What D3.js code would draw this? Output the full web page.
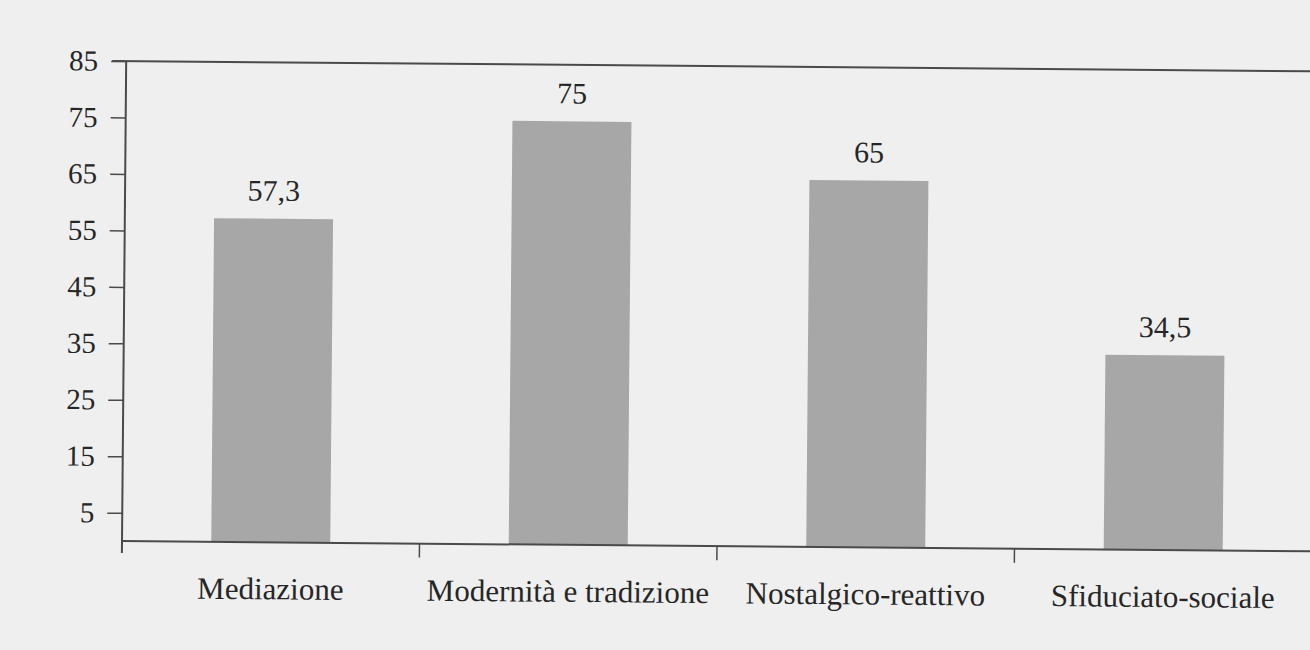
<!DOCTYPE html>
<html>
<head>
<meta charset="utf-8">
<script src="https://cdn.jsdelivr.net/npm/d3@7"></script>
<style>
  body { margin: 0; background: #efefef; }
  text { font-family: "Liberation Serif", "DejaVu Serif", serif; fill: #262626; }
</style>
</head>
<body>
<div id="main"></div>
<script>
// data
const categories = ["Mediazione", "Modernità e tradizione", "Nostalgico-reattivo", "Sfiduciato-sociale"];
const values = [57.3, 75, 65, 34.5];
const valueLabels = ["57,3", "75", "65", "34,5"];
const yTicks = [5, 15, 25, 35, 45, 55, 65, 75, 85];

const width = 1310, height = 650;

const svg = d3.select("#main")
  .append("svg")
  .attr("width", width)
  .attr("height", height);

// scanned page is a little crooked
const g = svg.append("g")
  .attr("transform", "rotate(0.5, 122, 541)");

const x = d3.scaleBand()
  .domain(categories)
  .range([122, 1312])
  .paddingInner(0.6)
  .paddingOuter(0.3);

const y = d3.scaleLinear()
  .domain([0, 85])
  .range([541, 61]);

const lineColor = "#4a4a4a";

// top border
g.append("line")
  .attr("x1", 108).attr("x2", 1330)
  .attr("y1", y(85)).attr("y2", y(85))
  .attr("stroke", lineColor).attr("stroke-width", 2);

// bars
g.selectAll(".bar")
  .data(values)
  .enter().append("rect")
  .attr("class", "bar")
  .attr("x", (d, i) => x(categories[i]))
  .attr("y", (d) => y(d))
  .attr("width", x.bandwidth())
  .attr("height", (d) => y(0) - y(d))
  .style("fill", "#a7a7a7");

// value labels
g.selectAll(".val")
  .data(values)
  .enter().append("text")
  .attr("class", "val")
  .attr("x", (d, i) => x(categories[i]) + x.bandwidth() / 2)
  .attr("y", (d) => y(d) - 18)
  .attr("text-anchor", "middle")
  .attr("font-size", "30px")
  .text((d, i) => valueLabels[i]);

// y axis
const yAxis = g.append("g")
  .attr("transform", "translate(122,0)")
  .call(d3.axisLeft(y).tickValues(yTicks).tickSize(15).tickPadding(13).tickSizeOuter(0));
yAxis.select(".domain").remove();
yAxis.selectAll(".tick line").attr("stroke", lineColor).attr("stroke-width", 1.5);
yAxis.selectAll(".tick text")
  .attr("font-size", "29px")
  .attr("font-family", "Liberation Serif, serif")
  .style("fill", "#262626");

g.append("line")
  .attr("x1", 122).attr("x2", 122)
  .attr("y1", y(85)).attr("y2", y(0) + 12)
  .attr("stroke", lineColor).attr("stroke-width", 2);

// x axis
g.append("line")
  .attr("x1", 122).attr("x2", 1330)
  .attr("y1", y(0)).attr("y2", y(0))
  .attr("stroke", lineColor).attr("stroke-width", 2);

const step = x.step();
const bounds = categories.map((c, i) => x.range()[0] + i * step);
g.selectAll(".xtick")
  .data(bounds.slice(1))
  .enter().append("line")
  .attr("class", "xtick")
  .attr("x1", (d) => d).attr("x2", (d) => d)
  .attr("y1", y(0)).attr("y2", y(0) + 14)
  .attr("stroke", lineColor).attr("stroke-width", 1.5);

g.selectAll(".cat")
  .data(categories)
  .enter().append("text")
  .attr("class", "cat")
  .attr("x", (d) => x(d) + x.bandwidth() / 2)
  .attr("y", 598)
  .attr("text-anchor", "middle")
  .attr("font-size", "31px")
  .text((d) => d);
</script>
</body>
</html>
